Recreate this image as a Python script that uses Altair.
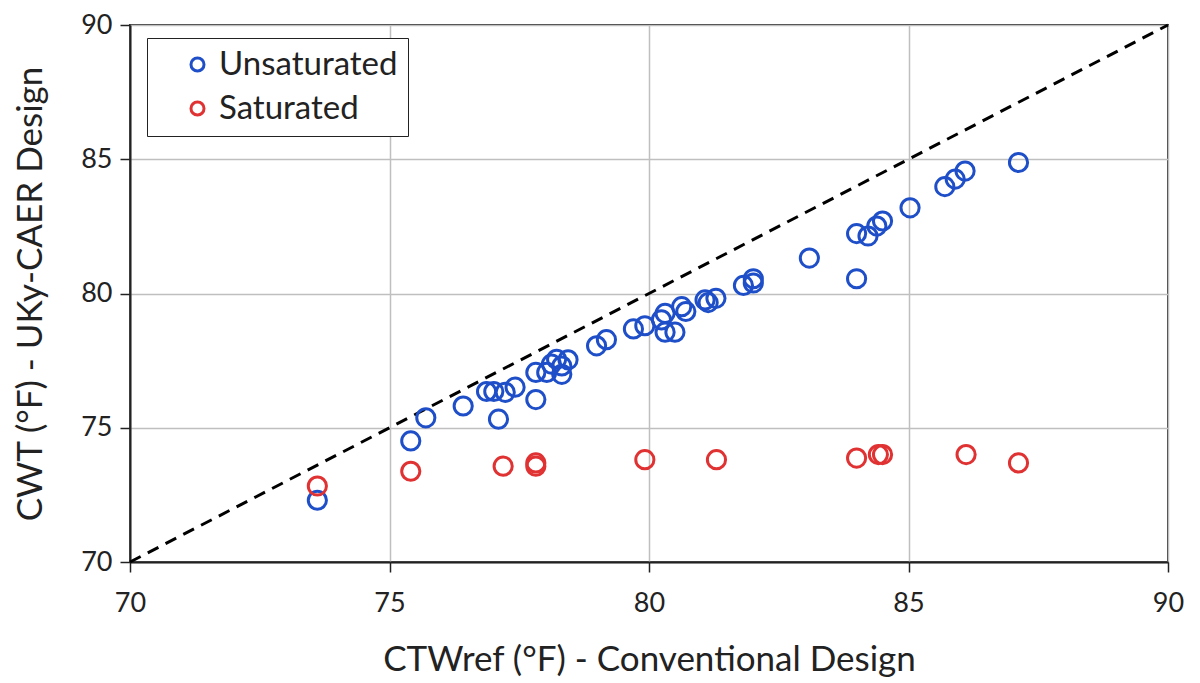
import altair as alt
import pandas as pd

# Unsaturated series
unsat_x = [73.61, 75.41, 75.70, 76.42, 77.10, 76.87, 77.01, 77.23, 77.42, 77.82,
           77.82, 78.03, 78.22, 78.44, 78.12, 78.32, 78.32, 78.99, 79.18, 79.70,
           79.92, 80.24, 80.31, 80.31, 80.50, 80.63, 80.71, 81.08, 81.14, 81.29,
           81.82, 82.01, 82.01, 83.09, 84.00, 84.00, 84.22, 84.39, 84.50, 85.03,
           85.70, 85.90, 86.09, 87.12]
unsat_y = [72.30, 74.51, 75.37, 75.81, 75.32, 76.35, 76.35, 76.32, 76.51, 76.05,
           77.06, 77.06, 77.55, 77.53, 77.37, 77.30, 76.99, 78.05, 78.28, 78.68,
           78.80, 79.02, 79.26, 78.56, 78.56, 79.51, 79.33, 79.76, 79.66, 79.82,
           80.30, 80.55, 80.39, 81.32, 80.55, 82.23, 82.14, 82.51, 82.70, 83.19,
           83.98, 84.26, 84.56, 84.88]

# Saturated series
sat_x = [73.61, 75.41, 77.19, 77.82, 77.82, 79.92, 81.30, 84.00, 84.42, 84.50, 86.11, 87.12]
sat_y = [72.83, 73.38, 73.57, 73.69, 73.57, 73.81, 73.81, 73.87, 74.00, 74.00, 74.00, 73.69]

series_names = ["Unsaturated", "Saturated"]
series_colors = ["#1f4fc8", "#e03232"]

# 1:1 reference line endpoints
ref_x = [70, 90]
ref_y = [70, 90]

axis_ticks = [70, 75, 80, 85, 90]

rows = []
for x, y in zip(unsat_x, unsat_y):
    rows.append({"x": x, "y": y, "series": "Unsaturated", "order": 0})
for x, y in zip(sat_x, sat_y):
    rows.append({"x": x, "y": y, "series": "Saturated", "order": 1})
df = pd.DataFrame(rows)
ref_df = pd.DataFrame({"x": ref_x, "y": ref_y})

FONT = "Lato"

xscale = alt.Scale(domain=[70, 90], nice=False, zero=False)
yscale = alt.Scale(domain=[70, 90], nice=False, zero=False)

xaxis = alt.Axis(values=axis_ticks, title="CTWref (°F) - Conventional Design",
                 titlePadding=26, labelPadding=18, tickSize=10, labelFlush=False,
                 titleFontSize=35)
yaxis = alt.Axis(values=axis_ticks, title="CWT (°F) - UKy-CAER Design",
                 titlePadding=32, labelPadding=8, tickSize=10, labelFlush=False,
                 titleFontSize=35)

points = alt.Chart(df).mark_point(shape="circle", filled=False, strokeWidth=3, size=330, opacity=1).encode(
    x=alt.X("x:Q", scale=xscale, axis=xaxis),
    y=alt.Y("y:Q", scale=yscale, axis=yaxis),
    color=alt.Color("series:N", scale=alt.Scale(domain=series_names, range=series_colors),
                    legend=alt.Legend(title=None, orient="none", legendX=17, legendY=13,
                                      strokeColor="#222222", fillColor="white",
                                      padding=10, symbolOffset=24, labelFontSize=33,
                                      labelFont=FONT, labelColor="#222222", labelLimit=400,
                                      symbolSize=170, symbolStrokeWidth=3, symbolType="circle",
                                      rowPadding=10, labelOffset=5)),
    order=alt.Order("order:Q"),
)

line = alt.Chart(ref_df).mark_line(color="black", strokeWidth=3, strokeDash=[12, 8]).encode(
    x=alt.X("x:Q", scale=xscale, axis=xaxis),
    y=alt.Y("y:Q", scale=yscale, axis=yaxis),
)

chart = alt.layer(line, points).properties(
    width=1038, height=537,
    autosize=alt.AutoSizeParams(type="none"),
    padding={"left": 122, "top": 17, "right": 20, "bottom": 120},
    background="white",
).configure_axis(
    labelFont=FONT, titleFont=FONT, labelFontSize=27,
    labelColor="#222222", titleColor="#222222", titleFontWeight="normal",
    gridColor="#bfbfbf", gridWidth=1.5, domainColor="#222222", domainWidth=2,
    tickColor="#222222", tickWidth=1.5,
).configure_view(stroke="#333333", strokeWidth=2)

chart.save("out.html", embed_options={"renderer": "svg", "actions": False})
